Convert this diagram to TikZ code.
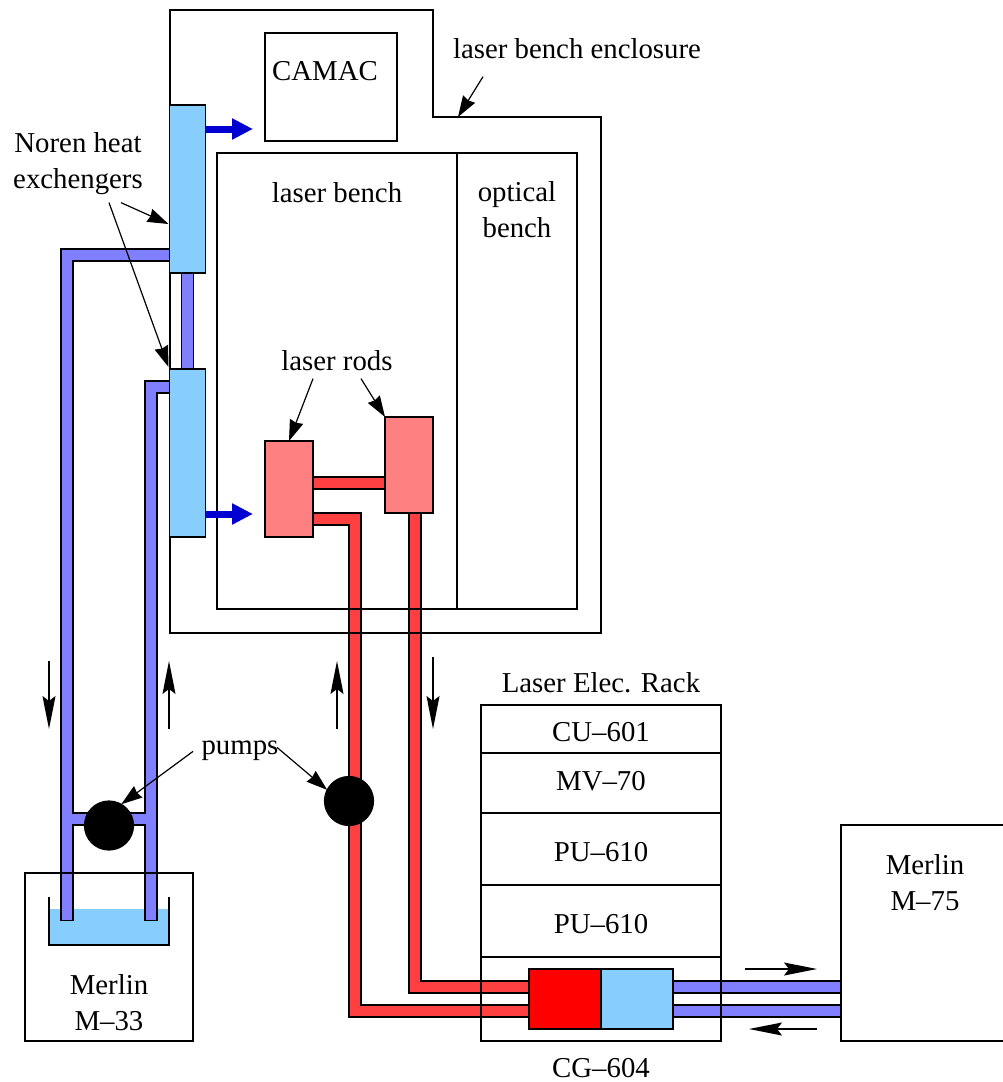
\documentclass[tikz,border=0pt]{standalone}
\usepackage{fontspec}
\setmainfont{Liberation Serif}
\usetikzlibrary{arrows.meta,backgrounds,calc,positioning}
\definecolor{exchblue}{RGB}{135,206,255}
\definecolor{pipeblue}{RGB}{128,128,255}
\definecolor{heatblue}{RGB}{0,0,208}
\definecolor{rodred}{RGB}{255,128,128}
\definecolor{piperedc}{RGB}{255,64,64}
\definecolor{chillred}{RGB}{255,0,0}
\tikzset{
  boxline/.style={draw,line width=1.2pt,inner sep=0pt,outer sep=0pt},
  bluepipe/.style={line width=1.2pt,double=pipeblue,double distance=10.8pt,line cap=rect},
  redpipe/.style={line width=1.2pt,double=piperedc,double distance=10.8pt,line cap=rect},
  callout/.style={line width=1.2pt,-{Stealth[length=21pt,width=14pt,inset=1.5pt]}},
  flowarrow/.style={line width=1.2pt,-{Stealth[length=33pt,width=13pt,inset=5pt]}},
  heatarrow/.style={line width=7pt,heatblue,-{Triangle[length=21pt,width=20pt]}}
}

\begin{document}
\begin{tikzpicture}[x=1pt,y=-1pt,font=\fontsize{28.8}{36}\selectfont,every node/.style={align=center}]
  \useasboundingbox (0,0) rectangle (1002,1082);
  % enclosure and benches
  \draw[line width=1.2pt] (170,10) -- (433,10) -- (433,117) -- (601,117) -- (601,633) -- (170,633) -- cycle;
  \node[boxline,minimum width=132,minimum height=108] at (331,87) (camac) {};
  \node at ($(camac.center)+(-6,-16)$) (camaclabel) {CAMAC};
  \node[boxline,minimum width=240,minimum height=456] at (337,381) (laserbench) {};
  \node[boxline,minimum width=120,minimum height=456] at (517,381) (opticalbench) {};
  \node at ($(laserbench.north)+(0,40)$) (laserlabel) {laser bench};
  \node at ($(opticalbench.north)+(0,57)$) (opticallabel) {optical\\bench};
  \node at (577,49) (enclosurelabel) {laser bench enclosure};
  % heat exchangers and rods
  \node[boxline,fill=exchblue,minimum width=36,minimum height=168] at (187.5,189) (exchupper) {};
  \node[boxline,fill=exchblue,minimum width=36,minimum height=168] at (187.5,453) (exchlower) {};
  \node[boxline,fill=rodred,minimum width=48,minimum height=96] at (289,489) (rodone) {};
  \node[boxline,fill=rodred,minimum width=48,minimum height=96] at (409,465) (rodtwo) {};
  \node at (78,164) (norenlabel) {Noren heat\\exchengers};
  \node at (337,361) (rodslabel) {laser rods};
  % pumps and chiller M-33
  \node[boxline,fill=black,circle,minimum size=49] at (109,825.5) (pumpone) {};
  \node[boxline,fill=black,circle,minimum size=49] at (349,801) (pumptwo) {};
  \node at (240,751) (pumpslabel) {pumps};
  \node[boxline,minimum width=168,minimum height=168] at (109,957) (merlina) {};
  \node at ($(merlina.center)+(0,46)$) (merlinalabel) {Merlin\\M--33};
  % electronics rack
  \node at (601,683) (racklabel) {Laser Elec. Rack};
  \node[boxline,minimum width=240,minimum height=48] at (601,729) (cusec) {};
  \node[boxline,minimum width=240,minimum height=60] at (601,783) (mvsec) {};
  \node[boxline,minimum width=240,minimum height=72] at (601,849) (pusecone) {};
  \node[boxline,minimum width=240,minimum height=72] at (601,921) (pusectwo) {};
  \node[boxline,minimum width=240,minimum height=84] at (601,999) (cgsec) {};
  \node at ($(cusec.center)+(0,3)$) (culabel) {CU--601};
  \node at ($(mvsec.center)+(0,-2)$) (mvlabel) {MV--70};
  \node at ($(pusecone.center)+(0,3)$) (puonelabel) {PU--610};
  \node at ($(pusectwo.center)+(0,3)$) (putwolabel) {PU--610};
  \node at ($(cgsec.south)+(0,27)$) (cglabel) {CG--604};
  \node[boxline,fill=chillred,minimum width=72,minimum height=60] at (565,999) (chillhot) {};
  \node[boxline,fill=exchblue,minimum width=72,minimum height=60] at (637,999) (chillcold) {};
  \node[boxline,fill=white,minimum width=170,minimum height=216] at (926,933) (merlinb) {};
  \node at (925,883) (merlinblabel) {Merlin\\M--75};
  % pipes run under everything else
  \coordinate (tankleft) at (67,914.5);
  \coordinate (tankright) at (151,914.5);
  \coordinate (crossleft) at (67,819);
  \coordinate (crossright) at (151,819);
  \coordinate (hotcorner) at (355,1011);
  \coordinate (coolone) at ($(chillcold.north east)+(0,18)$);
  \coordinate (cooltwo) at ($(chillcold.south east)+(0,-18)$);
  \begin{scope}[on background layer]
    \node[fill=exchblue,inner sep=0pt,outer sep=0pt,minimum width=120,minimum height=36] at (109,927) (water) {};
    \draw[bluepipe] ($(exchupper.south west)+(0,-18)$) -| (tankleft)
      ($(exchlower.north west)+(0,18)$) -| (tankright)
      (crossleft) -- (crossright)
      (exchupper.south) -- (exchlower.north)
      (coolone) -- (coolone -| merlinb.west)
      (cooltwo) -- (cooltwo -| merlinb.west);
    \draw[redpipe] ($(rodone.north east)+(0,42)$) -- ($(rodtwo.north west)+(0,66)$)
      ($(rodone.south east)+(0,-18)$) -| (hotcorner) -- ($(chillhot.south west)+(0,-18)$)
      ($(rodtwo.south)+(6,0)$) |- ($(chillhot.north west)+(0,18)$);
  \end{scope}
  \draw[line width=1.2pt] ($(water.north west)+(0,-12)$) -- (water.south west) -- (water.south east) -- ($(water.north east)+(0,-12)$);
  % heat given off
  \draw[heatarrow] ($(exchupper.north east)+(0,24)$) -- ($(camac.south west)+(-12,-12)$);
  \draw[heatarrow] ($(exchlower.south east)+(0,-23)$) -- ($(rodone.south west)+(-12,-23)$);
  % label arrows
  \draw[callout] ($(enclosurelabel.south)+(-94,14)$) -- (458,117);
  \draw[callout] ($(norenlabel.south)+(43,4)$) -- ($(exchupper.north west)+(-1,119)$);
  \draw[callout] ($(norenlabel.south)+(31,4)$) -- ($(exchlower.north west)+(-1,-2)$);
  \draw[callout] ($(rodslabel.south)+(-24,4)$) -- (rodone.north);
  \draw[callout] ($(rodslabel.south)+(24,4)$) -- (rodtwo.north west);
  \draw[callout] ($(pumpslabel.south)+(-47,-13)$) -- (pumpone.60);
  \draw[callout] ($(pumpslabel.south)+(37,-17)$) -- (pumptwo.153);
  % flow direction
  \coordinate (flowatop) at (49,661);
  \coordinate (flowabot) at (49,729);
  \coordinate (flowbtop) at (169,661);
  \coordinate (flowbbot) at (169,729);
  \coordinate (flowctop) at (337,661);
  \coordinate (flowcbot) at (337,729);
  \coordinate (flowdtop) at (433,657);
  \coordinate (flowdbot) at (433,729);
  \coordinate (flowehead) at (817,969);
  \coordinate (floweback) at (745,969);
  \coordinate (flowfhead) at (749,1029);
  \coordinate (flowfback) at (817,1029);
  \draw[flowarrow] (flowatop) -- (flowabot);
  \draw[flowarrow] (flowbbot) -- (flowbtop);
  \draw[flowarrow] (flowcbot) -- (flowctop);
  \draw[flowarrow] (flowdtop) -- (flowdbot);
  \draw[flowarrow] (floweback) -- (flowehead);
  \draw[flowarrow] (flowfback) -- (flowfhead);
\end{tikzpicture}
\end{document}
